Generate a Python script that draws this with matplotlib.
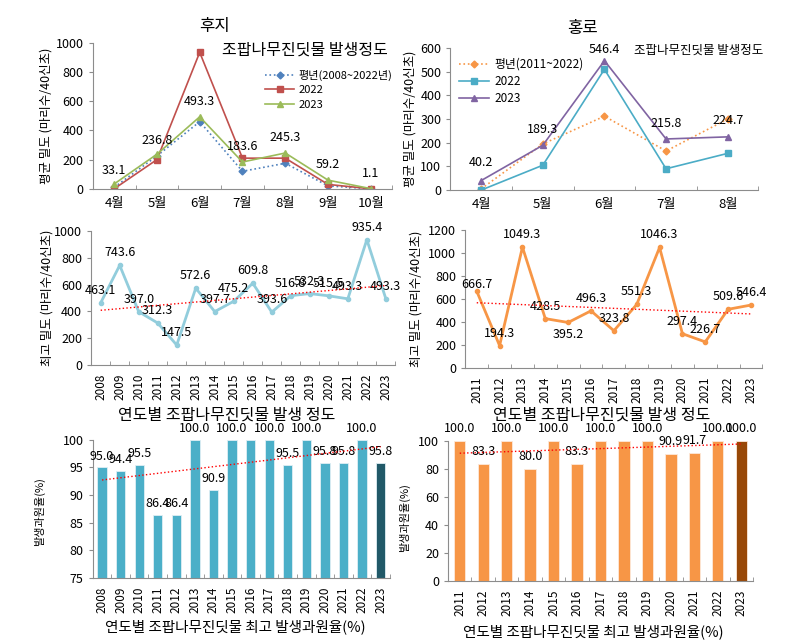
import numpy as np
import matplotlib.pyplot as plt
from matplotlib.ticker import FixedLocator

plt.rcParams['font.family'] = ['Noto Sans CJK KR', 'DejaVu Sans']
plt.rcParams['font.size'] = 8
plt.rcParams['axes.unicode_minus'] = False

# 후지 monthly
months_fuji = ['4월', '5월', '6월', '7월', '8월', '9월', '10월']
fuji_normal = [10, 225, 460, 120, 175, 20, 0]
fuji_2022 = [0, 200, 935, 210, 210, 30, 0]
fuji_2023 = [33.1, 236.8, 493.3, 183.6, 245.3, 59.2, 1.1]

# 홍로 monthly
months_hongro = ['4월', '5월', '6월', '7월', '8월']
hongro_normal = [5, 195, 312, 165, 300]
hongro_2022 = [0, 105, 510, 90, 155]
hongro_2023 = [40.2, 189.3, 546.4, 215.8, 224.7]

# yearly max density
years_fuji = [str(y) for y in range(2008, 2024)]
fuji_max = [463.1, 743.6, 397.0, 312.3, 147.5, 572.6, 397.7, 475.2,
            609.8, 393.6, 516.8, 532.3, 515.5, 493.3, 935.4, 493.3]
years_hongro = [str(y) for y in range(2011, 2024)]
hongro_max = [666.7, 194.3, 1049.3, 428.5, 395.2, 496.3, 323.8, 551.3,
              1046.3, 297.4, 226.7, 509.6, 546.4]

# yearly orchard occurrence rate (%)
fuji_rate = [95.0, 94.4, 95.5, 86.4, 86.4, 100.0, 90.9, 100.0,
             100.0, 100.0, 95.5, 100.0, 95.8, 95.8, 100.0, 95.8]
hongro_rate = [100.0, 83.3, 100.0, 80.0, 100.0, 83.3, 100.0, 100.0,
               100.0, 90.9, 91.7, 100.0, 100.0]

AX_COL = '#8c8c8c'
NUM_SIZE = 9


def style_axes(ax, n):
    for s in ['top', 'right']:
        ax.spines[s].set_visible(False)
    for s in ['left', 'bottom']:
        ax.spines[s].set_color(AX_COL)
    ax.set_xlim(-0.5, n - 0.5)
    ax.set_xticks(range(n))
    ax.xaxis.set_minor_locator(FixedLocator(np.arange(-0.5, n, 1)))
    ax.tick_params(axis='x', which='major', length=0, pad=6)
    ax.tick_params(axis='x', which='minor', length=3, direction='in', color=AX_COL)
    ax.tick_params(axis='y', length=3, color=AX_COL, labelsize=9)


def label_points(ax, values, offsets=None, fmt='{:.1f}'):
    for i, v in enumerate(values):
        dy = 9 if offsets is None else offsets[i]
        ax.annotate(fmt.format(v), (i, v), xytext=(0, dy), textcoords='offset points',
                    ha='center', va='center', fontsize=NUM_SIZE, annotation_clip=False)


def trend(ax, values):
    x = np.arange(len(values))
    k, b = np.polyfit(x, values, 1)
    ax.plot([x[0], x[-1]], [k * x[0] + b, k * x[-1] + b], ':', color='red', lw=1, zorder=5)


fig = plt.figure(figsize=(7.86, 6.4), dpi=100)

# ---- 후지 monthly ----
ax1 = fig.add_axes([0.118, 0.705, 0.381, 0.228])
x = np.arange(len(months_fuji))
ax1.plot(x, fuji_normal, ':', color='#4f81bd', marker='D', ms=3.5, lw=1.2, label='평년(2008~2022년)')
ax1.plot(x, fuji_2022, '-', color='#c0504d', marker='s', ms=4, lw=1.2, label='2022')
ax1.plot(x, fuji_2023, '-', color='#9bbb59', marker='^', ms=5, lw=1.2, label='2023')
style_axes(ax1, len(months_fuji))
ax1.set_xticklabels(months_fuji, fontsize=9.5)
ax1.set_ylim(0, 1000)
ax1.set_yticks(range(0, 1001, 200))
label_points(ax1, fuji_2023, offsets=[10, 10, 11, 11, 11, 11, 11])
ax1.set_ylabel('평균 밀도 (마리수/40신초)', fontsize=9)
ax1.yaxis.set_label_coords(-0.135, 0.5)
ax1.text(0.71, 0.95, '조팝나무진딧물 발생정도', transform=ax1.transAxes, ha='center', va='center', fontsize=11.5)
ax1.legend(loc='upper left', bbox_to_anchor=(0.55, 0.87), frameon=False, fontsize=8,
           handlelength=2.6, labelspacing=0.4, borderpad=0.2, handletextpad=0.4)
fig.text(215 / 786, 1 - 27 / 640, '후지', ha='center', va='center', fontsize=12)

# ---- 홍로 monthly ----
ax2 = fig.add_axes([0.573, 0.703, 0.392, 0.222])
x = np.arange(len(months_hongro))
ax2.plot(x, hongro_normal, ':', color='#f79646', marker='D', ms=3.5, lw=1.2, label='평년(2011~2022)')
ax2.plot(x, hongro_2022, '-', color='#4bacc6', marker='s', ms=4, lw=1.2, label='2022')
ax2.plot(x, hongro_2023, '-', color='#8064a2', marker='^', ms=5, lw=1.2, label='2023')
style_axes(ax2, len(months_hongro))
ax2.set_xticklabels(months_hongro, fontsize=9.5)
ax2.set_ylim(0, 600)
ax2.set_yticks(range(0, 601, 100))
label_points(ax2, hongro_2023, offsets=[13, 11, 8, 11, 12])
ax2.set_ylabel('평균 밀도 (마리수/40신초)', fontsize=9)
ax2.yaxis.set_label_coords(-0.11, 0.5)
ax2.text(0.805, 0.985, '조팝나무진딧물 발생정도', transform=ax2.transAxes, ha='center', va='center', fontsize=9)
ax2.legend(loc='upper left', bbox_to_anchor=(0.0, 0.99), frameon=False, fontsize=8.5,
           handlelength=2.6, labelspacing=0.35, borderpad=0.2, handletextpad=0.4)
fig.text(582 / 786, 1 - 28 / 640, '홍로', ha='center', va='center', fontsize=12)

# ---- 후지 yearly max ----
ax3 = fig.add_axes([0.116, 0.430, 0.387, 0.209])
x = np.arange(len(years_fuji))
ax3.plot(x, fuji_max, '-', color='#92cddc', marker='o', ms=3, lw=2)
trend(ax3, fuji_max)
style_axes(ax3, len(years_fuji))
ax3.set_xticklabels(years_fuji, rotation=90, fontsize=8.5)
ax3.set_ylim(0, 1000)
ax3.set_yticks(range(0, 1001, 200))
label_points(ax3, fuji_max)
ax3.set_ylabel('최고 밀도 (마리수/40신초)', fontsize=9)
ax3.yaxis.set_label_coords(-0.125, 0.5)
ax3.set_xlabel('연도별 조팝나무진딧물 발생 정도', fontsize=11.5)
ax3.xaxis.set_label_coords(0.447, -0.31)

# ---- 홍로 yearly max ----
ax4 = fig.add_axes([0.592, 0.425, 0.378, 0.216])
x = np.arange(len(years_hongro))
ax4.plot(x, hongro_max, '-', color='#f79646', marker='o', ms=3, lw=2)
trend(ax4, hongro_max)
style_axes(ax4, len(years_hongro))
ax4.set_xticklabels(years_hongro, rotation=90, fontsize=8.5)
ax4.set_ylim(0, 1200)
ax4.set_yticks(range(0, 1201, 200))
offs4 = [5, 9, 9, 9, -9, 9, 9, 9, 9, 9, 9, 9, 9]
label_points(ax4, hongro_max, offsets=offs4)
ax4.set_ylabel('최고 밀도 (마리수/40신초)', fontsize=9)
ax4.yaxis.set_label_coords(-0.145, 0.5)
ax4.set_xlabel('연도별 조팝나무진딧물 발생 정도', fontsize=11.5)
ax4.xaxis.set_label_coords(0.46, -0.28)

# ---- 후지 occurrence rate ----
ax5 = fig.add_axes([0.118, 0.097, 0.378, 0.216])
x = np.arange(len(years_fuji))
cols5 = ['#4bafc8'] * (len(years_fuji) - 1) + ['#215968']
ax5.bar(x, fuji_rate, width=0.5, color=cols5, edgecolor='#dfeff4', lw=0.6, zorder=2)
trend(ax5, fuji_rate)
style_axes(ax5, len(years_fuji))
ax5.set_xticklabels(years_fuji, rotation=90, fontsize=8.5)
ax5.set_ylim(75, 100)
ax5.set_yticks(range(75, 101, 5))
show5 = [i for i in range(len(years_fuji)) if years_fuji[i] != '2016']
for i in show5:
    ax5.annotate(f'{fuji_rate[i]:.1f}', (i, fuji_rate[i]), xytext=(0, 8), textcoords='offset points',
                 ha='center', va='center', fontsize=NUM_SIZE, annotation_clip=False)
ax5.set_ylabel('발생과원율(%)', fontsize=8)
ax5.yaxis.set_label_coords(-0.16, 0.48)
ax5.set_xlabel('연도별 조팝나무진딧물 최고 발생과원율(%)', fontsize=10.5)
ax5.xaxis.set_label_coords(0.48, -0.30)

# ---- 홍로 occurrence rate ----
ax6 = fig.add_axes([0.570, 0.092, 0.388, 0.219])
x = np.arange(len(years_hongro))
cols6 = ['#f79646'] * (len(years_hongro) - 1) + ['#984807']
ax6.bar(x, hongro_rate, width=0.48, color=cols6, edgecolor='#fde9d9', lw=0.6, zorder=2)
trend(ax6, hongro_rate)
style_axes(ax6, len(years_hongro))
ax6.set_xticklabels(years_hongro, rotation=90, fontsize=8.5)
ax6.set_ylim(0, 100)
ax6.set_yticks(range(0, 101, 20))
show6 = [i for i in range(len(years_hongro)) if years_hongro[i] != '2018']
for i in show6:
    ax6.annotate(f'{hongro_rate[i]:.1f}', (i, hongro_rate[i]), xytext=(0, 9), textcoords='offset points',
                 ha='center', va='center', fontsize=NUM_SIZE, annotation_clip=False)
ax6.set_ylabel('발생과원율(%)', fontsize=8)
ax6.yaxis.set_label_coords(-0.125, 0.45)
ax6.set_xlabel('연도별 조팝나무진딧물 최고 발생과원율(%)', fontsize=10.5)
ax6.xaxis.set_label_coords(0.475, -0.31)

fig.savefig('out.png', dpi=100)
